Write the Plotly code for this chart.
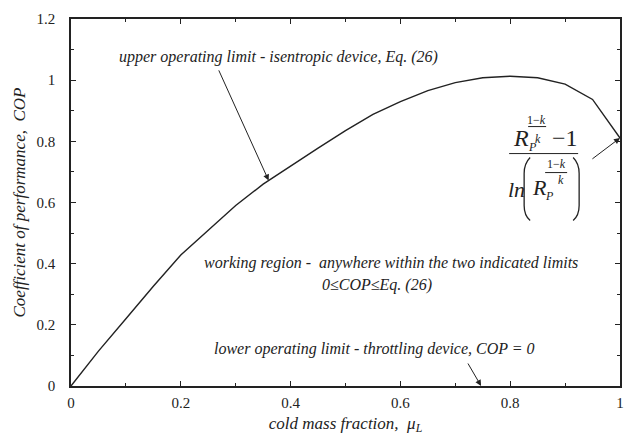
import numpy as np
import plotly.graph_objects as go

# cold mass fraction and isentropic-device COP (upper operating limit)
mu_L = [0.0, 0.05, 0.10, 0.15, 0.20, 0.25, 0.30, 0.35, 0.40, 0.45, 0.50,
        0.55, 0.60, 0.65, 0.70, 0.75, 0.80, 0.85, 0.90, 0.95, 1.00]
cop_upper = [0.0, 0.114, 0.220, 0.326, 0.428, 0.510, 0.590, 0.660, 0.720, 0.778, 0.835,
             0.888, 0.930, 0.966, 0.992, 1.008, 1.013, 1.008, 0.987, 0.937, 0.811]

x_ticks = [0, 0.2, 0.4, 0.6, 0.8, 1]
x_ticktext = ["0", "0.2", "0.4", "0.6", "0.8", "1"]
y_ticks = [0, 0.2, 0.4, 0.6, 0.8, 1, 1.2]
y_ticktext = ["0", "0.2", "0.4", "0.6", "0.8", "1", "1.2"]

FONT = "Liberation Serif, Times New Roman, serif"
INK = "#222222"

fig = go.Figure()
fig.add_trace(go.Scatter(x=mu_L, y=cop_upper, mode="lines",
                         line=dict(color=INK, width=1.4), showlegend=False,
                         hoverinfo="skip"))

axis_common = dict(
    showline=True, linecolor=INK, linewidth=1.5, mirror="ticks",
    ticks="inside", ticklen=5, tickwidth=1, tickcolor=INK,
    showgrid=False, zeroline=False, ticklabeloverflow="allow",
    tickfont=dict(family=FONT, size=15, color=INK),
)

fig.update_xaxes(range=[0, 1], tickvals=x_ticks, ticktext=x_ticktext,
                 minor=dict(dtick=0.1, ticks="inside", ticklen=3, tickcolor=INK, showgrid=False),
                 ticklabelstandoff=2,
                 title=dict(text="<i>cold mass fraction,  μ<sub>L</sub></i>",
                            font=dict(family=FONT, size=17, color=INK), standoff=7),
                 **axis_common)
fig.update_yaxes(range=[0, 1.2], tickvals=y_ticks, ticktext=y_ticktext,
                 minor=dict(dtick=0.1, ticks="inside", ticklen=3, tickcolor=INK, showgrid=False),
                 ticklabelstandoff=11,
                 **axis_common)

ann = []
txt_font = dict(family=FONT, size=16, color=INK)

# y-axis title
ann.append(dict(xref="paper", yref="paper", x=0, y=0.5, xshift=-52,
                text="<i>Coefficient of performance,  COP</i>", textangle=-90,
                showarrow=False, font=dict(family=FONT, size=17, color=INK),
                xanchor="center", yanchor="middle"))

# region labels
ann.append(dict(x=0.378, y=1.076, text="<i>upper operating limit - isentropic device, Eq. (26)</i>",
                showarrow=False, font=txt_font))
ann.append(dict(x=0.582, y=0.402, text="<i>working region -  anywhere within the two indicated limits</i>",
                showarrow=False, font=txt_font))
ann.append(dict(x=0.557, y=0.330, text="<i>0≤COP≤Eq. (26)</i>",
                showarrow=False, font=txt_font))
ann.append(dict(x=0.553, y=0.121, text="<i>lower operating limit - throttling device, COP = 0</i>",
                showarrow=False, font=txt_font))

# pointer arrows
arrow_style = dict(text="", showarrow=True, arrowhead=2, arrowsize=1.2, arrowwidth=1,
                   arrowcolor=INK, axref="x", ayref="y")
mu_hit = 0.36
ann.append(dict(x=mu_hit, y=float(np.interp(mu_hit, mu_L, cop_upper)),
                ax=0.268, ay=1.037, **arrow_style))
ann.append(dict(x=0.747, y=0.0, ax=0.7215, ay=0.0785, **arrow_style))
ann.append(dict(x=mu_L[-1], y=cop_upper[-1], ax=0.947, ay=0.739, **arrow_style))

# closed-form value at mu_L = 1, built from pieces around an anchor
fx, fy = 0.86, 0.76
big = dict(family=FONT, size=24, color=INK)
mid = dict(family=FONT, size=22, color=INK)
small = dict(family=FONT, size=12, color=INK)


def piece(text, dx, dy, font):
    ann.append(dict(x=fx, y=fy, xshift=dx, yshift=dy, text=text, showarrow=False,
                    font=font, xanchor="center", yanchor="middle"))


# numerator
piece("<i>R</i>", -22, 16, big)
piece("<i>P</i>", -11, 7, small)
piece("<i>k</i>", -5, 15, small)
piece("1−<i>k</i>", -7, 34, small)
piece("−1", 22, 16, big)
# denominator
piece("<i>ln</i>", -27, -36, mid)
piece("<i>R</i>", -4, -34, mid)
piece("<i>P</i>", 6, -42, small)
piece("<i>k</i>", 18, -26, small)
piece("1−<i>k</i>", 13, -10, small)
fig.update_layout(annotations=ann)

line_px = dict(type="line", xref="x", yref="y", xsizemode="pixel", ysizemode="pixel",
               xanchor=fx, yanchor=fy, line=dict(color=INK, width=1))
fig.add_shape(x0=-34, x1=35, y0=0, y1=0, **line_px)       # main fraction bar
fig.add_shape(x0=-15, x1=3, y0=27, y1=27, **line_px)      # exponent bar, numerator
fig.add_shape(x0=2, x1=24, y0=-19, y1=-19, **line_px)     # exponent bar, denominator

paren_px = dict(type="path", xref="x", yref="y", xsizemode="pixel", ysizemode="pixel",
                xanchor=fx, yanchor=fy, line=dict(color=INK, width=1.3))
fig.add_shape(path="M -13 -4 Q -19 -10 -19 -20 L -19 -52 Q -19 -62 -13 -67", **paren_px)
fig.add_shape(path="M 30 -4 Q 36 -10 36 -20 L 36 -52 Q 36 -62 30 -67", **paren_px)

fig.update_layout(width=625, height=446, margin=dict(l=71, r=1, t=19, b=60),
                  paper_bgcolor="white", plot_bgcolor="white",
                  font=dict(family=FONT, color=INK))

fig.write_html("out.html")
